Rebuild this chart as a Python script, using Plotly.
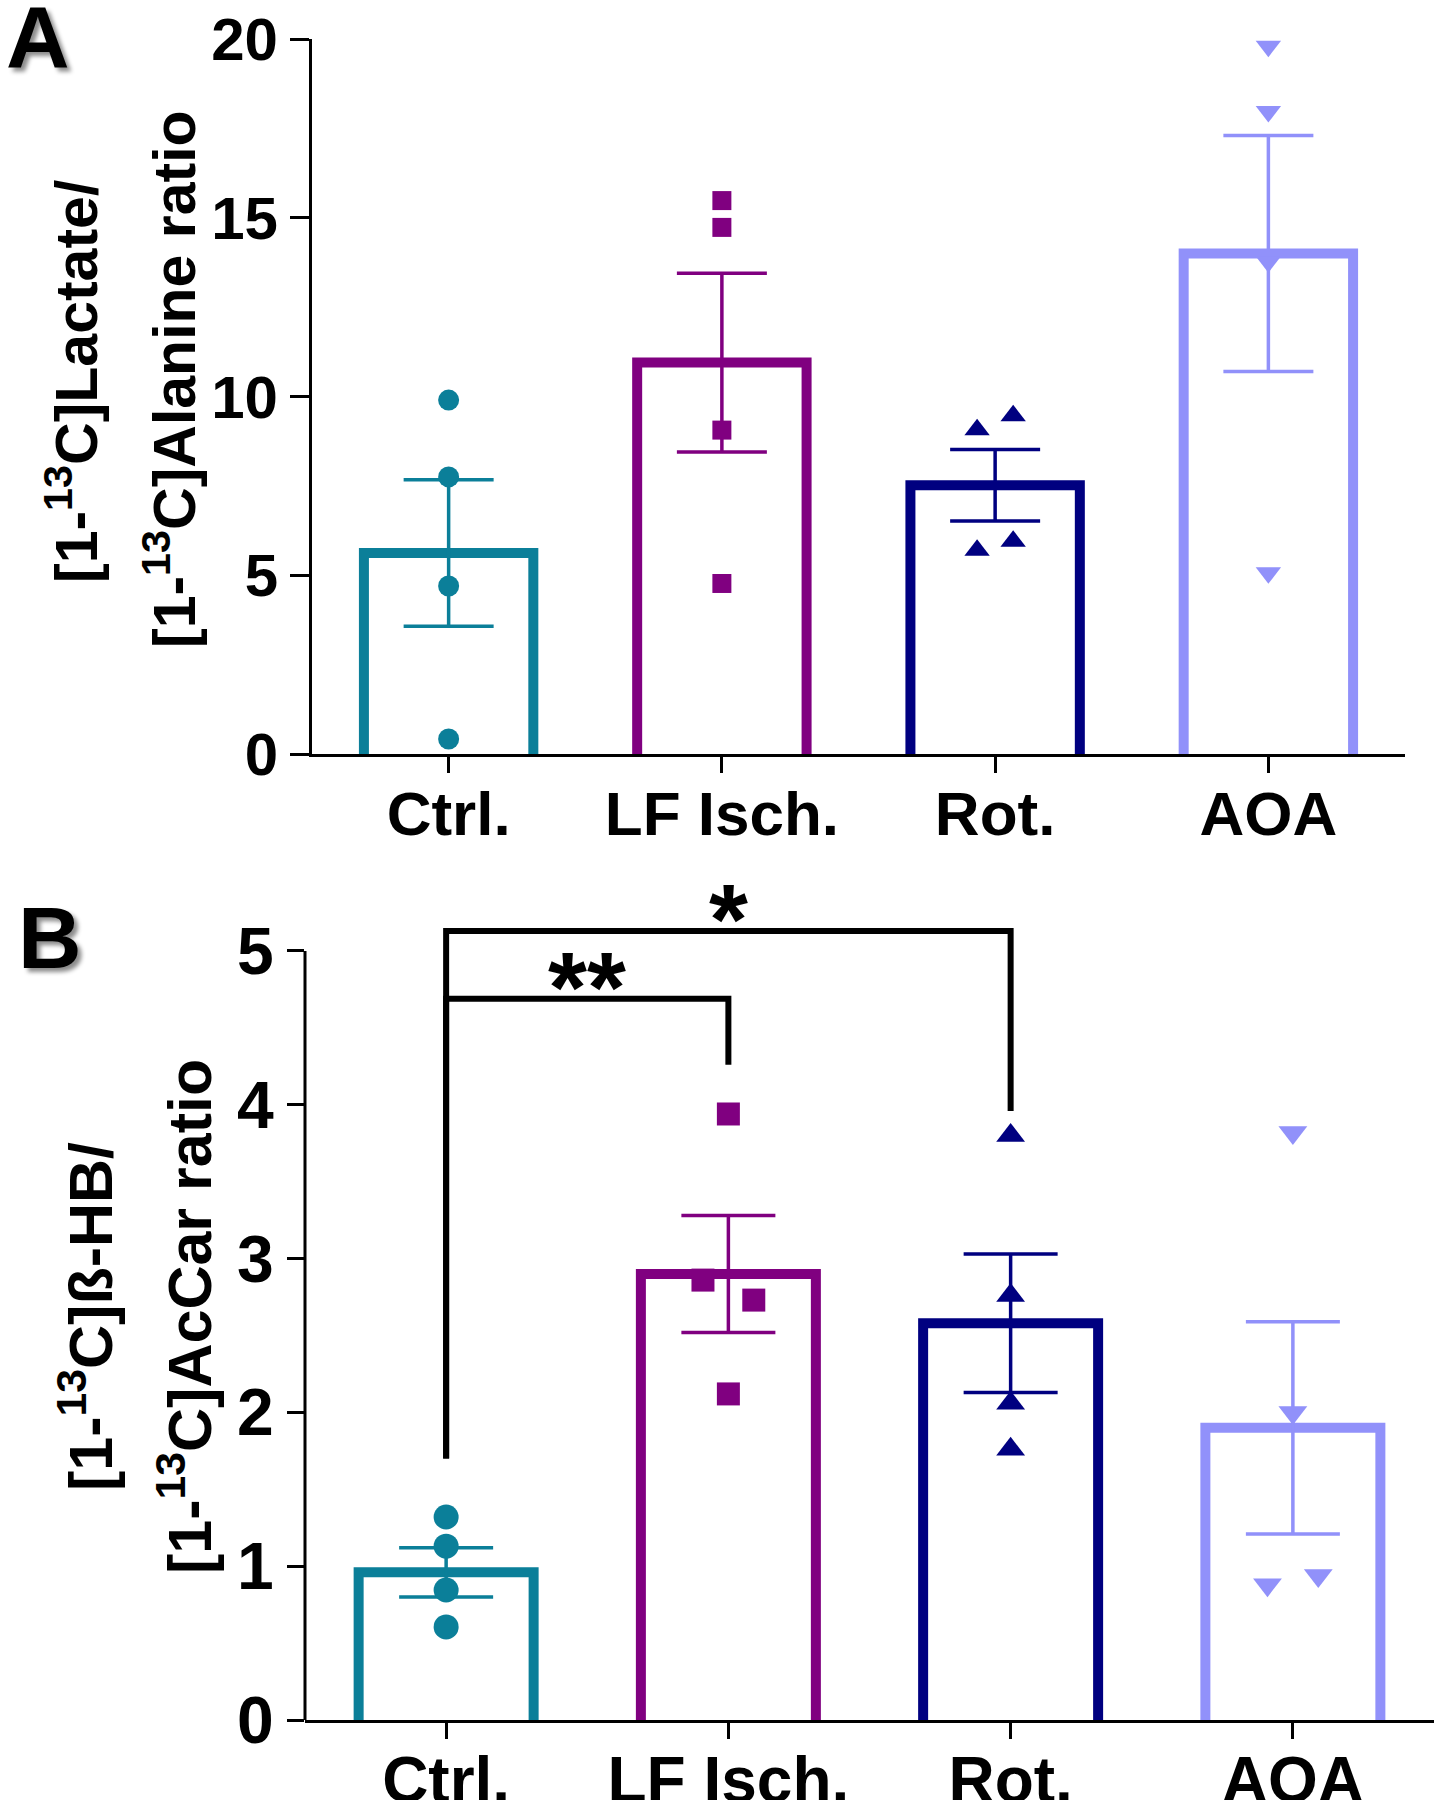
import plotly.graph_objects as go

# ---------------- data ----------------
categories = ["Ctrl.", "LF Isch.", "Rot.", "AOA"]
colors = ["#0B7F99", "#800080", "#000080", "#9191FA"]
symbols = ["circle", "square", "triangle-up", "triangle-down"]

# Panel A : [1-13C]Lactate / [1-13C]Alanine ratio
a_means = [5.62, 10.95, 7.52, 14.0]
a_sem = [2.05, 2.5, 1.0, 3.3]
a_ctrl = [9.9, 7.75, 4.70, 0.42]
a_lf = [15.48, 14.73, 9.06, 4.77]
a_rot = [9.07, 9.46, 5.70, 5.95]
a_aoa = [19.8, 17.97, 13.77, 5.07]

# Panel B : [1-13C]beta-HB / [1-13C]AcCar ratio
b_means = [0.96, 2.90, 2.58, 1.90]
b_sem = [0.16, 0.38, 0.45, 0.69]
b_ctrl = [1.32, 1.13, 0.845, 0.605]
b_lf = [3.94, 2.86, 2.73, 2.12]
b_rot = [3.80, 2.76, 2.06, 1.76]
b_aoa = [3.82, 2.00, 0.88, 0.94]

# horizontal jitter of the individual points (category units)
a_jitter = [[0, 0, 0, 0], [0, 0, 0, 0], [-0.066, 0.066, -0.066, 0.066], [0, 0, 0, 0]]
b_jitter = [[0, 0, 0, 0], [0, -0.09, 0.09, 0], [0, 0, 0, 0], [0, 0, -0.09, 0.09]]

# significance brackets (panel B)
sig_pairs = [(0, 1), (0, 2)]
sig_labels = ["**", "*"]
sig_tops = [4.69, 5.13]
sig_left_ends = [1.70, 1.70]
sig_right_ends = [4.26, 3.96]

a_ticks = [0, 5, 10, 15, 20]
b_ticks = [0, 1, 2, 3, 4, 5]

# ---------------- figure ----------------
W, H = 1439, 1800
FONT = "Liberation Sans, Arial, Helvetica, sans-serif"

fig = go.Figure()

panels = [
    dict(xa="x", ya="y", means=a_means, sem=a_sem,
         pts=[a_ctrl, a_lf, a_rot, a_aoa], jit=a_jitter,
         base=-0.5, msize=[21, 19, 22, 22], cap=45),
    dict(xa="x2", ya="y2", means=b_means, sem=b_sem,
         pts=[b_ctrl, b_lf, b_rot, b_aoa], jit=b_jitter,
         base=-0.1, msize=[25, 23, 25, 25], cap=47),
]

for p in panels:
    for i, cat in enumerate(categories):
        # bar (base below the axis so the bottom edge is hidden -> open bars)
        fig.add_trace(go.Bar(
            x=[i], y=[p["means"][i] - p["base"]], base=[p["base"]],
            width=0.62,
            marker=dict(color="white", line=dict(color=colors[i], width=10)),
            error_y=dict(type="data", array=[p["sem"][i]], symmetric=True,
                         color=colors[i], thickness=3.5, width=p["cap"]),
            xaxis=p["xa"], yaxis=p["ya"], showlegend=False, name=cat,
        ))
    for i, cat in enumerate(categories):
        fig.add_trace(go.Scatter(
            x=[i + o for o in p["jit"][i]], y=p["pts"][i], mode="markers",
            marker=dict(symbol=symbols[i], size=p["msize"][i], color=colors[i],
                        line=dict(width=0)),
            xaxis=p["xa"], yaxis=p["ya"], showlegend=False, name=cat,
            cliponaxis=False,
        ))

# significance brackets
annotations = []
for (i, j), lab, top, le, re in zip(sig_pairs, sig_labels, sig_tops,
                                    sig_left_ends, sig_right_ends):
    fig.add_trace(go.Scatter(
        x=[i, i, j, j], y=[le, top, top, re], mode="lines",
        line=dict(color="black", width=6, shape="linear"),
        xaxis="x2", yaxis="y2", showlegend=False, hoverinfo="skip",
    ))
    annotations.append(dict(
        x=(i + j) / 2, y=top, xref="x2", yref="y2", text=lab,
        showarrow=False, yanchor="middle", yshift=12,
        font=dict(family=FONT, size=100, color="black", weight="bold"),
    ))

def px(x):
    return x / W

def py(y):
    return 1 - y / H

axis_common = dict(
    showgrid=False, zeroline=False, ticks="outside", tickwidth=3,
    tickcolor="black", linecolor="black", linewidth=3, fixedrange=True,
    automargin=False,
)

fig.update_layout(
    width=W, height=H,
    margin=dict(l=0, r=0, t=0, b=0, autoexpand=False),
    paper_bgcolor="white", plot_bgcolor="white",
    barmode="overlay",
    xaxis=dict(domain=[px(312), px(1405)], range=[-0.5, 3.5], anchor="y",
               tickvals=list(range(len(categories))), ticktext=categories,
               showline=True, ticklen=16, ticklabelstandoff=-12,
               tickfont=dict(family=FONT, size=62, color="black", weight="bold"),
               **axis_common),
    yaxis=dict(domain=[py(754), py(39)], range=[0, 20], anchor="x",
               tickvals=a_ticks, showline=True, ticklen=19,
               tickfont=dict(family=FONT, size=60, color="black", weight="bold"),
               **axis_common),
    xaxis2=dict(domain=[px(305), px(1434)], range=[-0.5, 3.5], anchor="y2",
                tickvals=list(range(len(categories))), ticktext=categories,
                showline=True, ticklen=16, ticklabelstandoff=-14,
                tickfont=dict(family=FONT, size=64, color="black", weight="bold"),
                **axis_common),
    yaxis2=dict(domain=[py(1720), py(912.5)], range=[0, 5.25], anchor="x2",
                tickvals=b_ticks, showline=False, ticklen=17,
                tickfont=dict(family=FONT, size=66, color="black", weight="bold"),
                **axis_common),
    shapes=[dict(type="line", xref="x2 domain", yref="y2", x0=0, x1=0,
                 y0=0, y1=b_ticks[-1], line=dict(color="black", width=3),
                 layer="above")],
)

title_font_a = dict(family=FONT, size=59, color="black", weight="bold")
title_font_b = dict(family=FONT, size=61, color="black", weight="bold")
annotations += [
    dict(x=px(73), y=py(382), xref="paper", yref="paper", textangle=-90,
         text="[1-<sup>13</sup>C]Lactate/", showarrow=False,
         xanchor="center", yanchor="middle", font=title_font_a),
    dict(x=px(170), y=py(379), xref="paper", yref="paper", textangle=-90,
         text="[1-<sup>13</sup>C]Alanine ratio", showarrow=False,
         xanchor="center", yanchor="middle", font=title_font_a),
    dict(x=px(86), y=py(1317), xref="paper", yref="paper", textangle=-90,
         text="[1-<sup>13</sup>C]ß-HB/", showarrow=False,
         xanchor="center", yanchor="middle", font=title_font_b),
    dict(x=px(185), y=py(1317), xref="paper", yref="paper", textangle=-90,
         text="[1-<sup>13</sup>C]AcCar ratio", showarrow=False,
         xanchor="center", yanchor="middle", font=title_font_b),
    dict(x=px(38), y=py(36), xref="paper", yref="paper", text="A",
         showarrow=False, xanchor="center", yanchor="middle",
         font=dict(family=FONT, size=88, color="black", weight="bold",
                   shadow="4px 4px 4px rgba(0,0,0,0.45)")),
    dict(x=px(50), y=py(937), xref="paper", yref="paper", text="B",
         showarrow=False, xanchor="center", yanchor="middle",
         font=dict(family=FONT, size=88, color="black", weight="bold",
                   shadow="4px 4px 4px rgba(0,0,0,0.45)")),
]
fig.update_layout(annotations=annotations)

fig.write_html("out.html", config={"displayModeBar": False},
               post_script="document.body.style.margin='0';document.body.style.overflow='hidden';")
